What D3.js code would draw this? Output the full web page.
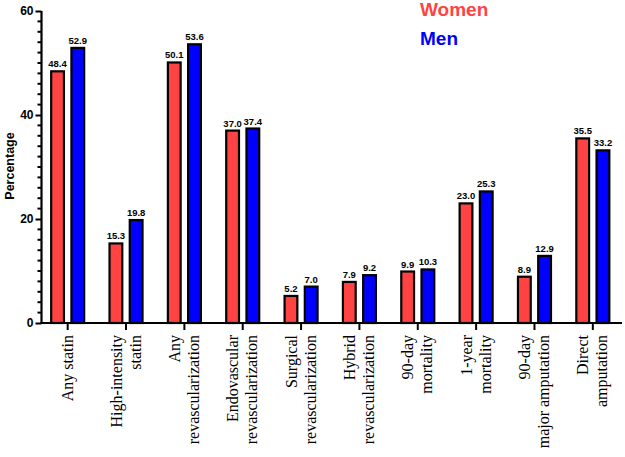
<!DOCTYPE html>
<html><head><meta charset="utf-8">
<script src="https://cdn.jsdelivr.net/npm/d3@7"></script>
<style>body{margin:0;background:#fff}svg{display:block}</style>
</head><body>
<svg id="c" width="625" height="457"></svg>
<script>
const categories = [
  ["Any statin"],
  ["High-intensity","statin"],
  ["Any","revascularization"],
  ["Endovascular","revascularization"],
  ["Surgical","revascularization"],
  ["Hybrid","revascularization"],
  ["90-day","mortality"],
  ["1-year","mortality"],
  ["90-day","major amputation"],
  ["Direct","amputation"]
];
const women = [48.4, 15.3, 50.1, 37.0, 5.2, 7.9, 9.9, 23.0, 8.9, 35.5];
const men   = [52.9, 19.8, 53.6, 37.4, 7.0, 9.2, 10.3, 25.3, 12.9, 33.2];
const seriesNames = ["Women","Men"];
const colors = ["#FF4343","#0000FF"];
const yTicks = [0,20,40,60];

const svg = d3.select("#c");
const axisX = 41.5, baseY = 323;
const y = d3.scaleLinear().domain([0,60]).range([baseY, 11]);
const x = d3.scaleBand().domain(d3.range(categories.length)).range([38.5, 622]);
const sub = d3.scaleBand().domain([0,1]).range([-17.5, 17.5]).paddingInner(0.27);

const data = [women, men];
categories.forEach((c,i)=>{
  const cx = x(i) + x.bandwidth()/2;
  data.forEach((s,k)=>{
    const v = s[i];
    const bx = cx + sub(k);
    svg.append("rect")
      .attr("x", bx+1).attr("y", y(v))
      .attr("width", sub.bandwidth()-2).attr("height", baseY - y(v))
      .attr("fill", colors[k]).attr("stroke","#000").attr("stroke-width",2.2);
    svg.append("text")
      .attr("x", bx + sub.bandwidth()/2).attr("y", y(v)-4)
      .attr("text-anchor","middle")
      .attr("font-family","Liberation Sans, Arial, sans-serif")
      .attr("font-weight","bold").attr("font-size",9.5)
      .text(v.toFixed(1));
  });
});

// Y axis
const yAxis = d3.axisLeft(y).tickValues(yTicks).tickSize(6).tickPadding(2).tickFormat(d3.format("d"));
const gy = svg.append("g").attr("transform",`translate(${axisX},0)`).call(yAxis);
gy.select(".domain").attr("stroke-width",2.2).attr("d",`M0,${baseY}V${y(60)}`);
gy.selectAll(".tick line").attr("stroke-width",2);
gy.selectAll(".tick text").attr("font-family","Liberation Sans, Arial, sans-serif")
  .attr("font-weight","bold").attr("font-size",12).attr("fill","#000");
const minor = d3.range(0,61,2).filter(v=>v%20!==0);
gy.selectAll(".minor").data(minor).join("line")
  .attr("x1",-4).attr("x2",0).attr("y1",d=>y(d)).attr("y2",d=>y(d))
  .attr("stroke","#000").attr("stroke-width",2);

// X axis
svg.append("line").attr("x1",axisX-1).attr("x2",622).attr("y1",baseY).attr("y2",baseY)
  .attr("stroke","#000").attr("stroke-width",2.2);
categories.forEach((c,i)=>{
  const cx = x(i) + x.bandwidth()/2;
  svg.append("line").attr("x1",cx).attr("x2",cx).attr("y1",baseY).attr("y2",baseY+7)
    .attr("stroke","#000").attr("stroke-width",2);
  const n = c.length;
  c.forEach((line,j)=>{
    const lx = cx + (j - (n-1)/2)*19 + 5;
    svg.append("text")
      .attr("transform",`translate(${lx},335) rotate(-90)`)
      .attr("text-anchor","end")
      .attr("font-family","Liberation Serif, Times New Roman, serif")
      .attr("font-size",16).attr("fill","#000")
      .text(line);
  });
});

// Y title
svg.append("text").attr("transform","translate(13.5,166) rotate(-90)")
  .attr("text-anchor","middle")
  .attr("font-family","Liberation Sans, Arial, sans-serif")
  .attr("font-weight","bold").attr("font-size",12.5).text("Percentage");

// Legend
seriesNames.forEach((n,k)=>{
  svg.append("text").attr("x",420).attr("y",16+k*28.5)
    .attr("font-family","Liberation Sans, Arial, sans-serif")
    .attr("font-weight","bold").attr("font-size",19)
    .attr("fill",colors[k]).text(n);
});
</script>
</body></html>
